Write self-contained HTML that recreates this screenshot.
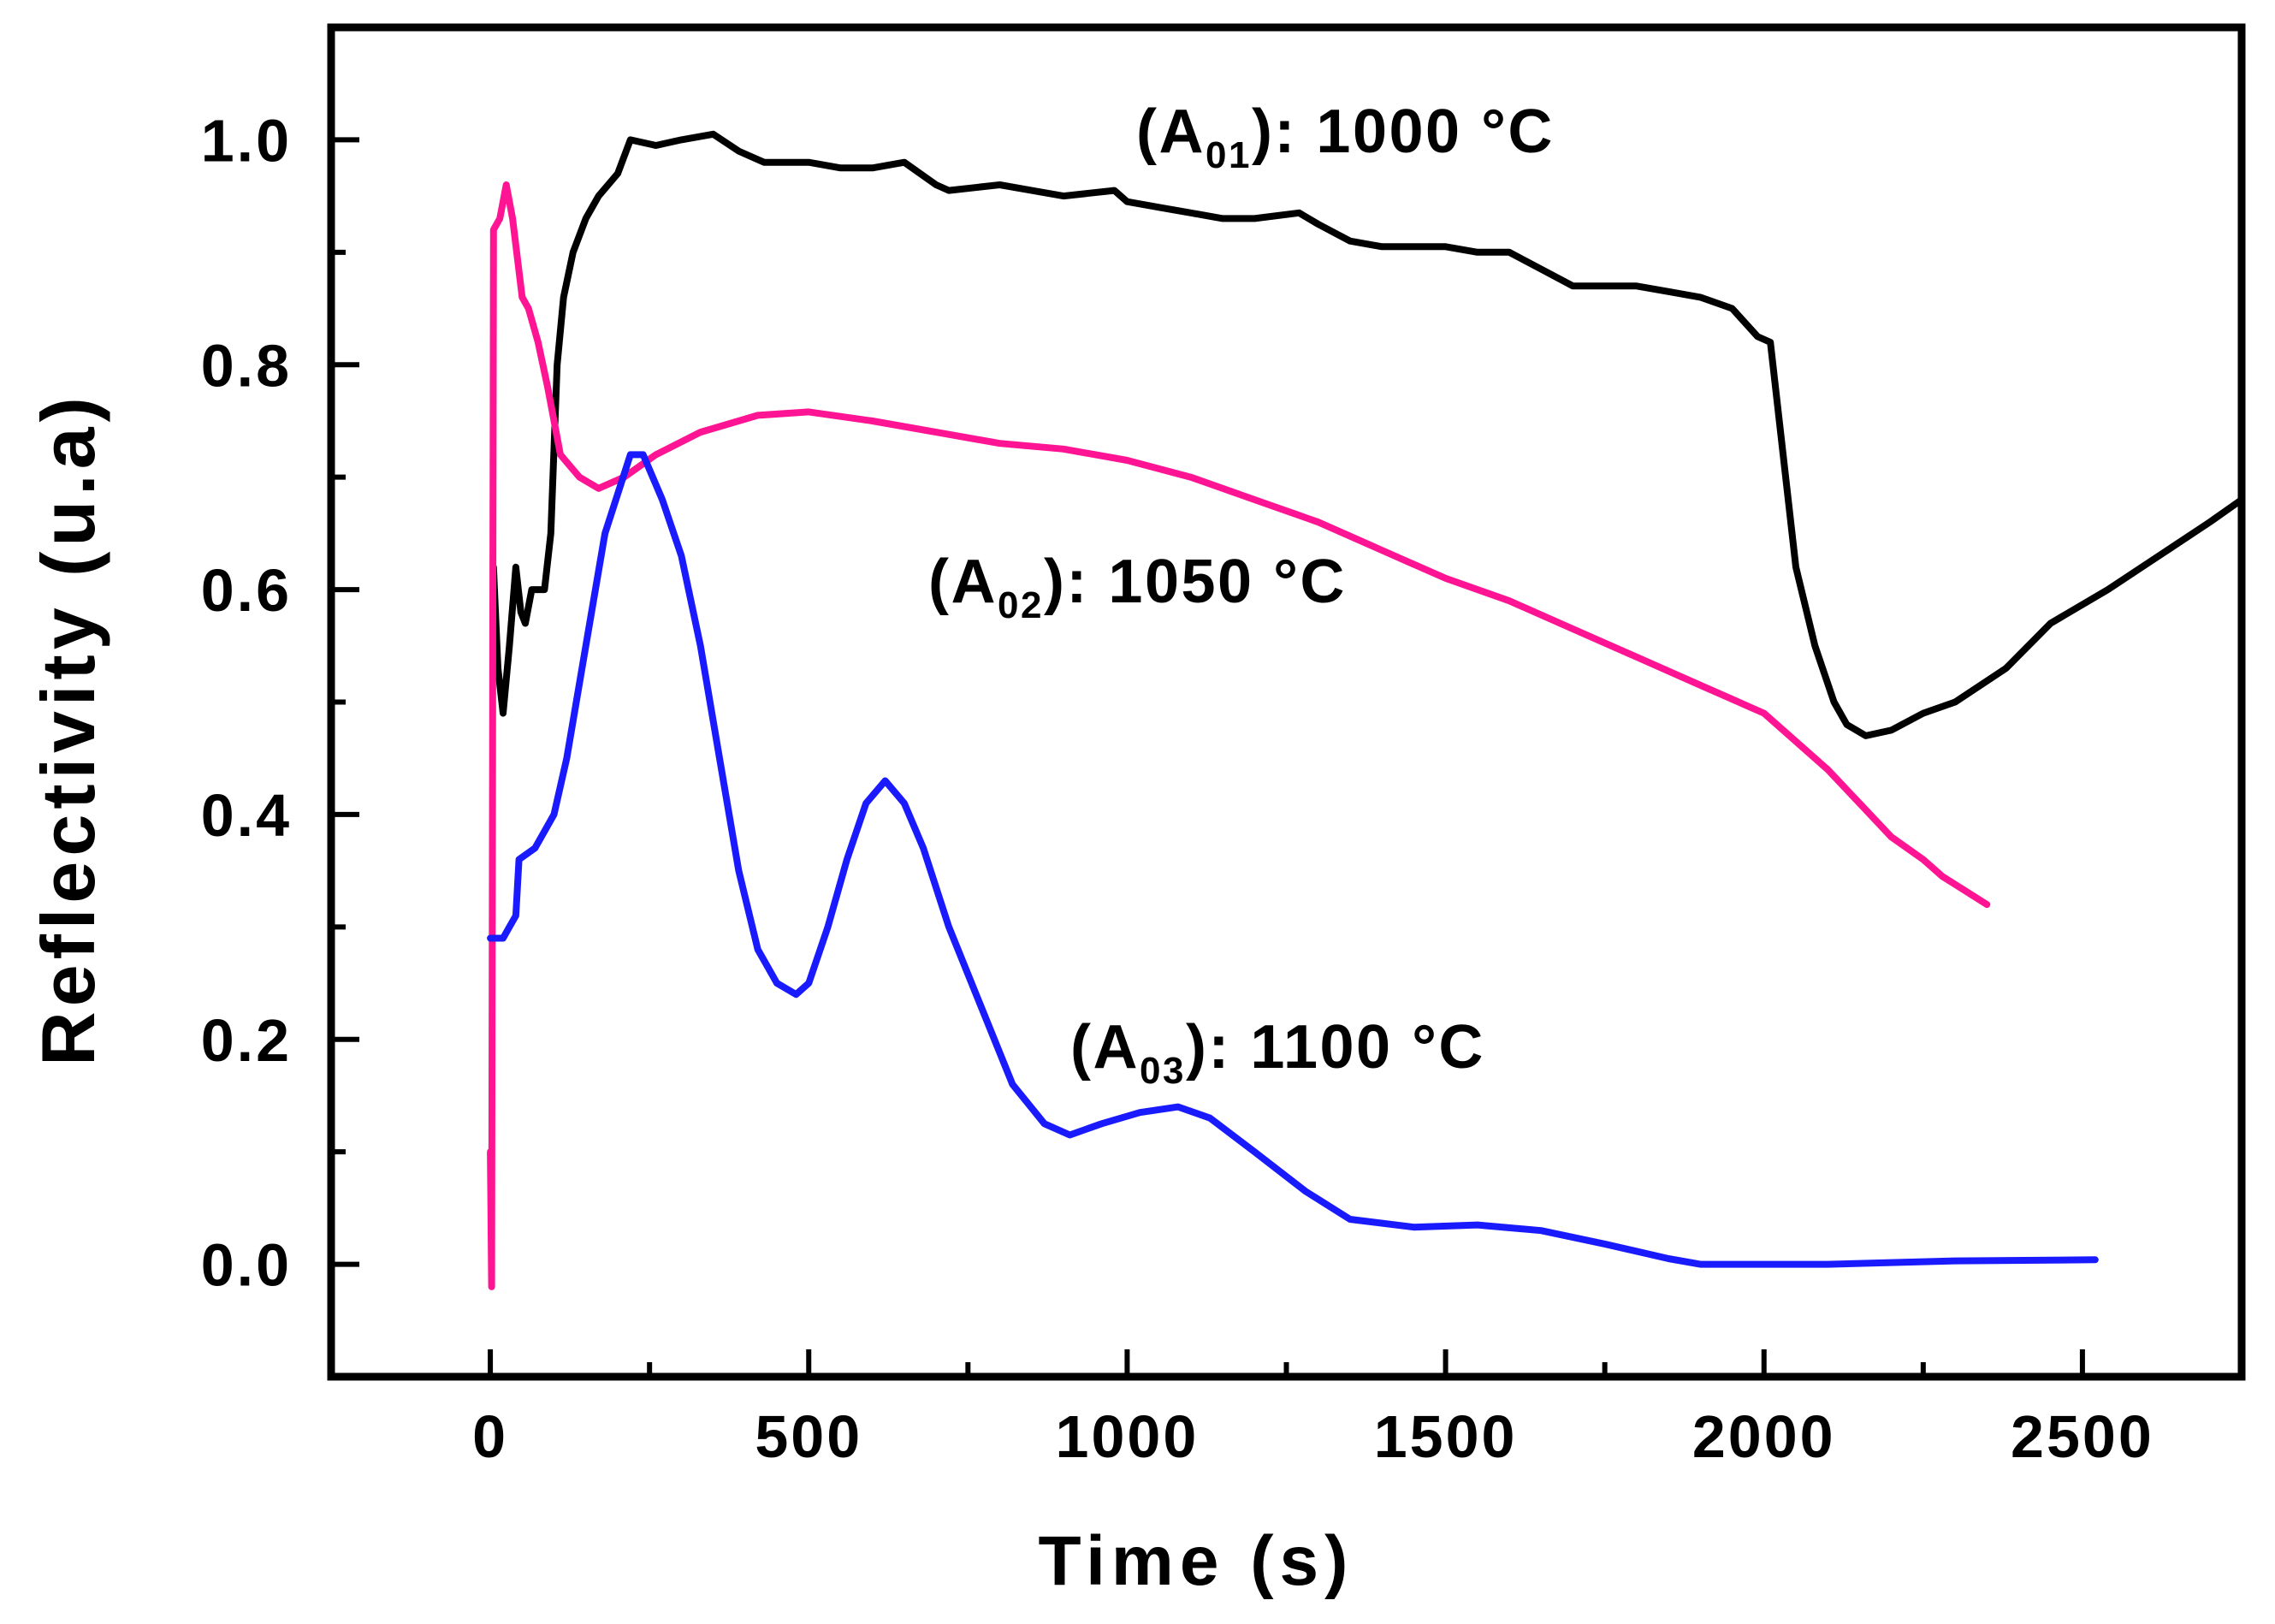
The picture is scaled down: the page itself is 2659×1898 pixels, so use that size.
<!DOCTYPE html>
<html><head><meta charset="utf-8"><style>
html,body{margin:0;padding:0;background:#fff}
svg{display:block;font-family:"Liberation Sans",Arial,sans-serif;font-weight:bold}
</style></head><body>
<svg id="chart" width="2659" height="1898" viewBox="0 0 2659 1898">
<g id="marks"></g>
<g id="axes"></g>
<text x="1328" y="178" font-size="72" letter-spacing="2.5">(A<tspan font-size="44" dy="18">01</tspan><tspan dy="-18">): 1000 °C</tspan></text>
<text x="1085" y="704" font-size="72" letter-spacing="2.5">(A<tspan font-size="44" dy="18">02</tspan><tspan dy="-18">): 1050 °C</tspan></text>
<text x="1251" y="1248" font-size="72" letter-spacing="2.5">(A<tspan font-size="44" dy="18">03</tspan><tspan dy="-18">): 1100 °C</tspan></text>
<text x="1398" y="1852" font-size="82" letter-spacing="7" text-anchor="middle">Time (s)</text>
<text transform="translate(110,852) rotate(-90)" font-size="88" letter-spacing="6" text-anchor="middle">Reflectivity (u.a)</text>
</svg>
<script>
const xTicks=[0,500,1000,1500,2000,2500];
const yTicks=[0.0,0.2,0.4,0.6,0.8,1.0];
const yTickLabels=["0.0","0.2","0.4","0.6","0.8","1.0"];
const a01T=[5,12,20,30,40,48,55,65,85,95,105,115,130,150,170,200,220,260,300,350,390,430,500,550,600,650,700,720,800,850,900,980,1000,1050,1100,1150,1200,1270,1300,1350,1400,1500,1550,1600,1650,1700,1800,1850,1900,1950,1990,2010,2030,2050,2080,2110,2130,2160,2200,2250,2300,2380,2450,2540,2620,2700,2750];
const a01V=[0.62,0.53,0.49,0.55,0.62,0.58,0.57,0.6,0.6,0.65,0.8,0.86,0.9,0.93,0.95,0.97,1.0,0.995,1.0,1.005,0.99,0.98,0.98,0.975,0.975,0.98,0.96,0.955,0.96,0.955,0.95,0.955,0.945,0.94,0.935,0.93,0.93,0.935,0.925,0.91,0.905,0.905,0.9,0.9,0.885,0.87,0.87,0.865,0.86,0.85,0.825,0.82,0.72,0.62,0.55,0.5,0.48,0.47,0.475,0.49,0.5,0.53,0.57,0.6,0.63,0.66,0.68];
const a02T=[0,2,5,15,25,35,50,60,75,90,110,140,170,210,260,330,420,500,600,700,800,900,1000,1100,1200,1300,1400,1500,1600,1700,1800,1900,2000,2050,2100,2150,2200,2250,2280,2350];
const a02V=[0.1,-0.02,0.92,0.93,0.96,0.93,0.86,0.85,0.82,0.78,0.72,0.7,0.69,0.7,0.72,0.74,0.755,0.758,0.75,0.74,0.73,0.725,0.715,0.7,0.68,0.66,0.635,0.61,0.59,0.565,0.54,0.515,0.49,0.465,0.44,0.41,0.38,0.36,0.345,0.32];
const a03T=[0,20,30,40,45,70,100,120,150,180,220,240,270,300,330,360,390,420,450,480,500,530,560,590,620,650,680,720,770,820,870,910,960,1020,1080,1130,1200,1280,1350,1450,1550,1650,1750,1850,1900,2100,2300,2520];
const a03V=[0.29,0.29,0.3,0.31,0.36,0.37,0.4,0.45,0.55,0.65,0.72,0.72,0.68,0.63,0.55,0.45,0.35,0.28,0.25,0.24,0.25,0.3,0.36,0.41,0.43,0.41,0.37,0.3,0.23,0.16,0.125,0.115,0.125,0.135,0.14,0.13,0.1,0.065,0.04,0.033,0.035,0.03,0.018,0.005,0,0,0.003,0.004];
const L=387,R=2620,T=32,B=1609,xMin=-250,xMax=2750,yMin=-0.1,yMax=1.1;
function sx(v){return L+(v-xMin)/(xMax-xMin)*(R-L);}
function sy(v){return B-(v-yMin)/(yMax-yMin)*(B-T);}
const NS="http://www.w3.org/2000/svg";
const marks=document.getElementById('marks'),axes=document.getElementById('axes');
function mk(tag,attrs,parent){const e=document.createElementNS(NS,tag);for(const k in attrs)e.setAttribute(k,attrs[k]);parent.appendChild(e);return e;}
function series(t,v,color,name){
  const d=t.map((x,i)=>(i?'L':'M')+sx(x).toFixed(1)+' '+sy(v[i]).toFixed(1)).join(' ');
  const p=mk('path',{d:d,fill:'none',stroke:color,'stroke-width':8,'stroke-linejoin':'round','stroke-linecap':'round'},marks);
  
  
}
series(a01T,a01V,'#000','series-a01-1000c');
series(a02T,a02V,'#ff1493','series-a02-1050c');
series(a03T,a03V,'#1a1aff','series-a03-1100c');
const frame=mk('rect',{x:L,y:T,width:R-L,height:B-T,fill:'none',stroke:'#000','stroke-width':9},axes);


for(let v=-250;v<=2750;v+=250){
  const major=(v%500===0);
  const tk=mk('line',{x1:sx(v),x2:sx(v),y1:B,y2:B-(major?32:17),stroke:'#000','stroke-width':6},axes);
  
  
}
xTicks.forEach(v=>{
  const t=mk('text',{x:sx(v),y:1703,'font-size':70,'letter-spacing':3,'text-anchor':'middle'},axes);
  t.textContent=v;
  
  
});
for(let i=-1;i<=10;i++){
  const v=i/10,major=(i%2===0);
  const tk=mk('line',{x1:L,x2:L+(major?33:17),y1:sy(v),y2:sy(v),stroke:'#000','stroke-width':6},axes);
  
  
}
yTicks.forEach((v,i)=>{
  const t=mk('text',{x:341,y:sy(v)+25,'font-size':70,'letter-spacing':3,'text-anchor':'end'},axes);
  t.textContent=yTickLabels[i];
  
  
});
</script>
</body></html>
